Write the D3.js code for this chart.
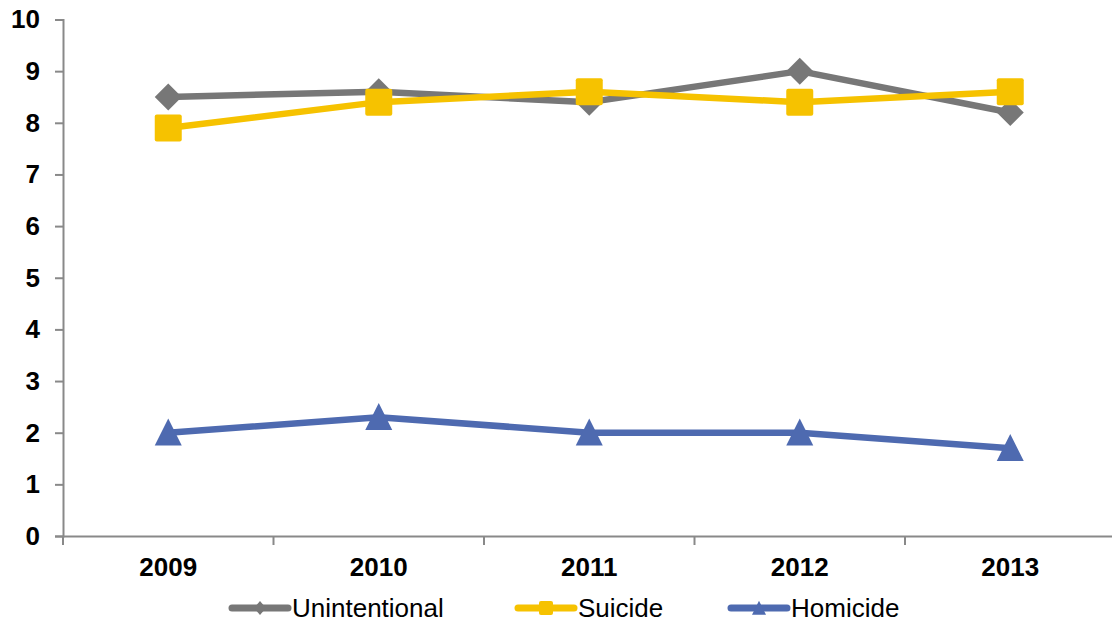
<!DOCTYPE html>
<html><head><meta charset="utf-8">
<script src="https://cdn.jsdelivr.net/npm/d3@7"></script>
<style>html,body{margin:0;padding:0;background:#fff;}svg{display:block;}</style>
</head><body>
<svg id="chart" width="1112" height="626"></svg>
<script>
const years = ["2009","2010","2011","2012","2013"];
const unintentional = [8.5, 8.6, 8.4, 9.0, 8.2];
const suicide = [7.9, 8.4, 8.6, 8.4, 8.6];
const homicide = [2.0, 2.3, 2.0, 2.0, 1.7];
const yTicks = [0,1,2,3,4,5,6,7,8,9,10];
const seriesNames = ["Unintentional","Suicide","Homicide"];

const series = [
  {name: seriesNames[0], values: unintentional, color: "#777777", shape: "diamond"},
  {name: seriesNames[1], values: suicide, color: "#F6C200", shape: "square"},
  {name: seriesNames[2], values: homicide, color: "#4E6AB0", shape: "triangle"}
];

const svg = d3.select("#chart");
const x = d3.scaleBand().domain(years).range([63, 1115.5]);
const y = d3.scaleLinear().domain([0,10]).range([536, 19.5]);
const axisColor = "#898989";
const font = "Liberation Sans, Arial, sans-serif";

// Y axis
const yAxis = svg.append("g").attr("transform","translate(63,0)")
  .call(d3.axisLeft(y).tickValues(yTicks).tickSize(8).tickPadding(15).tickFormat(d3.format("d")));
yAxis.select(".domain").attr("stroke", axisColor).attr("stroke-width", 2);
yAxis.selectAll(".tick line").attr("stroke", axisColor).attr("stroke-width", 2);
yAxis.selectAll(".tick text").attr("font-family", font).attr("font-size", 26).attr("font-weight","bold").attr("fill","#000");

// X axis
const xAxis = svg.append("g").attr("transform","translate(0,536)")
  .call(d3.axisBottom(x).tickSize(0).tickPadding(22));
xAxis.select(".domain").attr("stroke", axisColor).attr("stroke-width", 2);
xAxis.selectAll(".tick line").remove();
xAxis.selectAll(".tick text").attr("font-family", font).attr("font-size", 26).attr("font-weight","bold").attr("fill","#000");
// boundary ticks between categories
const bounds = years.map(d => x(d)).concat([x.range()[1]]);
svg.append("g").selectAll("line").data(bounds).join("line")
  .attr("x1", d=>d).attr("x2", d=>d).attr("y1", 536).attr("y2", 545)
  .attr("stroke", axisColor).attr("stroke-width", 2);

const cx = d => x(d) + x.bandwidth()/2;

function shapePath(shape, s, w) {
  w = w || s;
  if (shape === "diamond") return `M0,${-s}L${w},0L0,${s}L${-w},0Z`;
  if (shape === "square") return `M${-s+2},${-s}H${s-2}Q${s},${-s} ${s},${-s+2}V${s-2}Q${s},${s} ${s-2},${s}H${-s+2}Q${-s},${s} ${-s},${s-2}V${-s+2}Q${-s},${-s} ${-s+2},${-s}Z`;
  return `M0,${-s*1.05}L${s},${s*0.95}L${-s},${s*0.95}Z`;
}
const markerSize = {diamond: 13.5, square: 13.5, triangle: 13.5};

const line = d3.line().x((d,i)=>cx(years[i])).y(d=>y(d));
series.forEach(s => {
  const g = svg.append("g");
  g.append("path").attr("d", line(s.values)).attr("fill","none")
    .attr("stroke", s.color).attr("stroke-width", 6.5).attr("stroke-linejoin","round");
  g.selectAll("path.m").data(s.values).join("path").attr("class","m")
    .attr("transform",(d,i)=>`translate(${cx(years[i])},${y(d)})`)
    .attr("d", shapePath(s.shape, markerSize[s.shape])).attr("fill", s.color);
});

// Legend
const legendX = [232, 518, 731];
const legendY = 608;
series.forEach((s,i) => {
  const g = svg.append("g").attr("transform",`translate(${legendX[i]},${legendY})`);
  g.append("line").attr("x1",0).attr("x2",56).attr("y1",0).attr("y2",0)
    .attr("stroke", s.color).attr("stroke-width",7).attr("stroke-linecap","round");
  g.append("path").attr("transform","translate(28,0)").attr("d", s.shape === "diamond" ? shapePath(s.shape, 7, 6) : shapePath(s.shape, 7)).attr("fill", s.color);
  g.append("text").attr("x",60).attr("y",0).attr("dy","0.36em")
    .attr("font-family", font).attr("font-size",26).attr("fill","#000").text(s.name);
});
</script>
</body></html>
